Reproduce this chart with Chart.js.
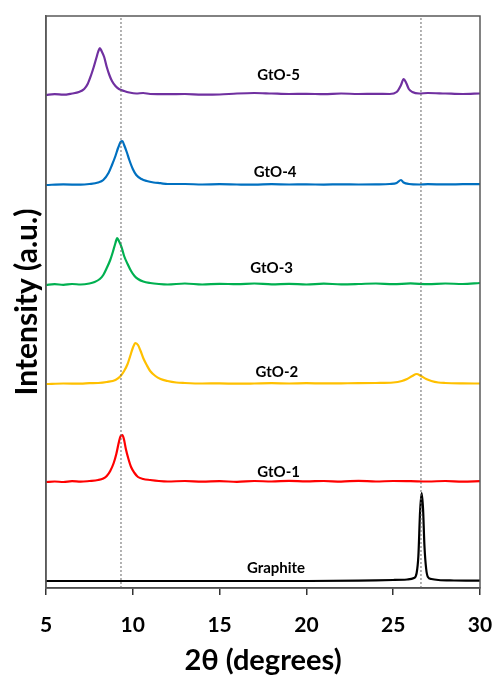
<!DOCTYPE html>
<html>
<head>
<meta charset="utf-8">
<script src="https://cdn.jsdelivr.net/npm/chart.js@4.4.0/dist/chart.umd.min.js"></script>
<style>
  html, body { margin: 0; padding: 0; background: #fff; }
  #wrap { width: 495px; height: 676px; }
</style>
</head>
<body>
<div id="wrap"><canvas id="xrd"></canvas></div>
<script>
// 2θ (deg), intensity above each pattern's own baseline (a.u.)
const graphite = [[5,0],[10,0],[15,0],[20,0],[23,0.3],[24,0.6],[25,1],[25.8,1.5],[26.2,3],[26.35,8],[26.45,25],[26.55,70],[26.64,88],[26.72,72],[26.8,35],[26.9,12],[27.0,4],[27.2,2],[27.6,1],[28.5,0.5],[30,0.3]];
const gto1 = [[5,0],[5.5,0.5],[6,0],[6.5,0.8],[7,0.3],[7.5,1],[8,2],[8.3,3.5],[8.5,6],[8.7,11],[8.9,19],[9.05,28],[9.2,40],[9.3,46],[9.4,47],[9.5,42],[9.6,33],[9.75,23],[9.9,15],[10.1,9],[10.3,5],[10.6,3],[11,2],[11.5,1],[12,0.5],[13,1],[14,0.3],[15,0.8],[16,0.2],[17,1],[18,0.5],[19,1.2],[20,0.6],[21,1],[22,0.4],[23,1.2],[24,0.5],[25,1],[26,0.8],[27,0.5],[28,1],[29,0.4],[30,0.8]];
const gto2 = [[5,0],[6,0.5],[7,0.3],[7.5,0.8],[8,1],[8.5,2],[9,4],[9.3,8],[9.5,13],[9.7,20],[9.85,28],[10,36],[10.15,41],[10.3,39],[10.45,33],[10.6,26],[10.8,19],[11,13],[11.3,8],[11.6,5],[12,3],[12.5,1.5],[13,1],[14,0.5],[15,0.6],[16,0.3],[17,0.5],[18,0.8],[19,0.5],[20,0.8],[21,0.6],[22,0.7],[23,0.8],[24,1],[25,1.5],[25.5,3],[25.8,5],[26.1,8],[26.35,10],[26.6,8],[26.9,5],[27.2,3],[27.6,1.5],[28,1],[29,0.6],[30,0.5]];
const gto3 = [[5,0],[5.5,0.8],[6,0.2],[6.5,1],[7,0.5],[7.5,1.5],[7.8,3],[8.1,6],[8.3,10],[8.5,17],[8.7,25],[8.85,33],[9.0,42],[9.1,47],[9.2,44],[9.35,38],[9.5,29],[9.7,21],[9.9,14],[10.1,9],[10.3,6],[10.6,3.5],[11,2],[11.5,1],[12,0.5],[13,1.5],[14,0.5],[15,1.2],[16,0.8],[17,1.5],[18,0.6],[19,1.2],[20,0.5],[21,1.3],[22,0.7],[23,1],[24,1.5],[25,0.8],[26,1.6],[27,0.8],[28,1.5],[29,1],[30,2]];
const gto4 = [[5,0],[6,0.6],[7,0.3],[7.5,1],[8,2.5],[8.3,5],[8.6,12],[8.8,20],[9.0,29],[9.15,37],[9.3,43],[9.4,44],[9.5,40],[9.65,33],[9.8,25],[10,16],[10.2,10],[10.5,6],[10.8,4],[11.2,2.5],[11.6,1.8],[12,1],[13,1],[14,0.5],[15,0.8],[16,0.5],[17,0.3],[18,0.8],[19,0.5],[20,0.6],[21,0.4],[22,0.7],[23,0.5],[24,0.6],[24.8,1],[25.2,2],[25.45,5],[25.6,2.5],[25.9,1],[26.5,0.5],[27,0.8],[28,0.6],[29,0.8],[30,0.9]];
const gto5 = [[5,0],[5.5,0.8],[6,0.3],[6.5,1.5],[6.9,3],[7.2,6],[7.4,11],[7.6,20],[7.75,28],[7.9,37],[8.0,43],[8.1,47],[8.2,44],[8.35,38],[8.5,28],[8.65,20],[8.8,14],[9.0,9],[9.2,6],[9.5,4],[9.8,2.5],[10.2,1.5],[10.6,2],[11,1],[12,0.8],[13,1],[14,0.3],[15,0.5],[16,1.5],[17,2],[18,1.5],[19,1],[20,1.2],[21,0.8],[22,1.5],[23,1],[24,1.2],[24.8,1],[25.2,3],[25.45,10],[25.6,16],[25.75,12],[25.9,6],[26.1,3],[26.5,1.5],[27,2],[28,1.5],[29,1],[30,1.5]];

const names = ['Graphite', 'GtO-1', 'GtO-2', 'GtO-3', 'GtO-4', 'GtO-5'];
const patterns = [graphite, gto1, gto2, gto3, gto4, gto5];
const offsets = [7, 106, 204, 303, 403, 493];
const colors = ['#000000', '#ff0000', '#ffc000', '#00b050', '#0070c0', '#7030a0'];
const labelX = [18.25, 18.4, 18.3, 18.0, 18.2, 18.4];
const labelDy = [13, 10, 12, 17, 13, 20];
const refLines = [9.32, 26.6];
const xTicks = [5, 10, 15, 20, 25, 30];

const datasets = patterns.map((p, i) => ({
  label: names[i],
  data: p.map(d => ({ x: d[0], y: d[1] + offsets[i] })),
  borderColor: colors[i],
  borderWidth: 2.2,
  pointRadius: 0,
  cubicInterpolationMode: 'monotone',
  fill: false
}));
refLines.forEach(x => datasets.unshift({
  label: 'ref',
  data: [{ x: x, y: 0 }, { x: x, y: 572 }],
  borderColor: '#666',
  borderWidth: 1,
  borderDash: [2, 2],
  pointRadius: 0
}));

const FONT = 'Lato, "Open Sans", sans-serif';

const frame = {
  id: 'frame',
  afterDatasetsDraw(chart) {
    const { ctx, chartArea: a, scales } = chart;
    ctx.save();
    ctx.strokeStyle = '#595959';
    ctx.lineWidth = 1.5;
    ctx.strokeRect(a.left, a.top, a.right - a.left, a.bottom - a.top);
    ctx.fillStyle = '#000';
    ctx.font = 'bold 15px ' + FONT;
    ctx.textAlign = 'center';
    ctx.textBaseline = 'middle';
    names.forEach((n, i) => {
      ctx.fillText(n, scales.x.getPixelForValue(labelX[i]), scales.y.getPixelForValue(offsets[i] + labelDy[i]));
    });
    ctx.restore();
  }
};

new Chart(document.getElementById('xrd'), {
  type: 'line',
  data: { datasets },
  plugins: [frame],
  options: {
    responsive: true,
    maintainAspectRatio: false,
    animation: false,
    layout: { padding: { top: 16, right: 15, left: 0, bottom: 0 } },
    plugins: { legend: { display: false }, tooltip: { enabled: false } },
    scales: {
      x: {
        type: 'linear', min: 5, max: 30,
        afterBuildTicks: s => { s.ticks = xTicks.map(v => ({ value: v })); },
        afterFit: s => { s.height = 88; s.paddingLeft = 0; s.paddingRight = 0; },
        grid: { drawOnChartArea: false, drawTicks: true, tickLength: 7, color: '#333', lineWidth: 1.5 },
        border: { color: '#333', width: 1.5 },
        ticks: { color: '#000', padding: 18, maxRotation: 0, font: { family: FONT, size: 21, weight: 'bold' } },
        title: { display: true, text: '2θ (degrees)', color: '#000', padding: { top: 0, bottom: -2 }, font: { family: FONT, size: 29, weight: 'bold' } }
      },
      y: {
        min: 0, max: 572,
        afterFit: s => { s.width = 46; },
        grid: { display: false },
        border: { color: '#595959', width: 1.5 },
        ticks: { display: false },
        title: { display: true, text: 'Intensity (a.u.)', color: '#000', padding: { top: 9, bottom: 0 }, font: { family: FONT, size: 30, weight: 'bold' } }
      }
    }
  }
});
</script>
</body>
</html>
